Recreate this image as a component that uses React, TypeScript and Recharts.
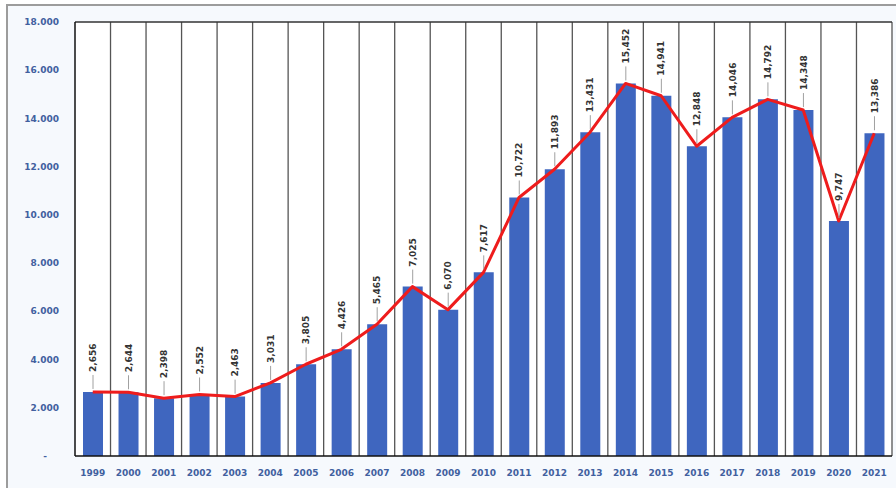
import { Bar, CartesianGrid, ComposedChart, LabelList, Line, ReferenceLine, XAxis, YAxis } from "recharts"

// Yearly values, 1999 - 2021
const years = ["1999", "2000", "2001", "2002", "2003", "2004", "2005", "2006", "2007", "2008", "2009", "2010", "2011", "2012", "2013", "2014", "2015", "2016", "2017", "2018", "2019", "2020", "2021"]
const values = [2656, 2644, 2398, 2552, 2463, 3031, 3805, 4426, 5465, 7025, 6070, 7617, 10722, 11893, 13431, 15452, 14941, 12848, 14046, 14792, 14348, 9747, 13386]
const yTicks = [0, 2000, 4000, 6000, 8000, 10000, 12000, 14000, 16000, 18000]

const data = years.map((year, i) => ({ year, value: values[i] }))

const FONT = "'DejaVu Sans', Verdana, sans-serif"
const TICK_COLOR = "#41609f"

const fmtTick = (v: number) => (v === 0 ? "-" : v.toLocaleString("en-US").replace(/,/g, "."))

const YTick = (props: any) => {
  const { x, y, payload } = props
  const isZero = payload.value === 0
  return (
    <text
      x={isZero ? x - 12 : x}
      y={y}
      dy="0.35em"
      textAnchor="end"
      fontFamily={FONT}
      fontSize={9}
      fontWeight="bold"
      fill={TICK_COLOR}
    >
      {fmtTick(payload.value)}
    </text>
  )
}

const ValueLabel = (props: any) => {
  const { x, y, width, value } = props
  const cx = x + width / 2
  const ty = y - 20
  return (
    <g>
      <line x1={cx} x2={cx} y1={y - 3} y2={y - 17} stroke="#a0a0a0" strokeWidth={1} />
      <text
        x={cx}
        y={ty}
        transform={`rotate(-90 ${cx} ${ty})`}
        dy="0.35em"
        textAnchor="start"
        fontFamily={FONT}
        fontSize={9}
        fontWeight="bold"
        fill="#333"
      >
        {Number(value).toLocaleString("en-US")}
      </text>
    </g>
  )
}

export default function App() {
  return (
    <div style={{ position: "absolute", left: 0, top: 0, width: 896, height: 488, background: "#fff", overflow: "hidden" }}>
      <div
        style={{
          position: "absolute",
          left: 6,
          top: 4,
          width: 900,
          height: 500,
          borderLeft: "2px solid #9c9c9c",
          borderTop: "2px solid #9c9c9c",
          background: "#f6f9fd",
        }}
      />
      <div style={{ position: "absolute", left: 0, top: 0 }}>
        <ComposedChart width={896} height={488} data={data} margin={{ top: 22, right: 4, left: 0, bottom: 0 }} barSize={20}>
          <CartesianGrid
            fill="#fff"
            horizontal={false}
            stroke="#555"
            strokeWidth={1.3}
            verticalCoordinatesGenerator={({ offset }: any) =>
              years.map((_, i) => offset.left + ((i + 1) * offset.width) / years.length)
            }
          />
          <XAxis
            dataKey="year"
            tickLine={false}
            axisLine={{ stroke: "#111", strokeWidth: 1.5 }}
            tickSize={0}
            tickMargin={14}
            height={32}
            interval={0}
            tick={{ fontFamily: FONT, fontSize: 9, fontWeight: "bold", fill: TICK_COLOR }}
          />
          <YAxis
            domain={[0, 18000]}
            ticks={yTicks}
            tickLine={false}
            axisLine={{ stroke: "#111", strokeWidth: 1.5 }}
            tickSize={0}
            tickMargin={16}
            width={75}
            tick={<YTick />}
          />
          <ReferenceLine y={18000} stroke="#333" strokeWidth={1.3} />
          <Bar dataKey="value" fill="#3f66bf" isAnimationActive={false}>
            <LabelList dataKey="value" content={<ValueLabel />} />
          </Bar>
          <Line
            dataKey="value"
            type="linear"
            stroke="#ee1c1c"
            strokeWidth={3}
            strokeLinejoin="round"
            dot={false}
            activeDot={false}
            isAnimationActive={false}
          />
        </ComposedChart>
      </div>
    </div>
  )
}
